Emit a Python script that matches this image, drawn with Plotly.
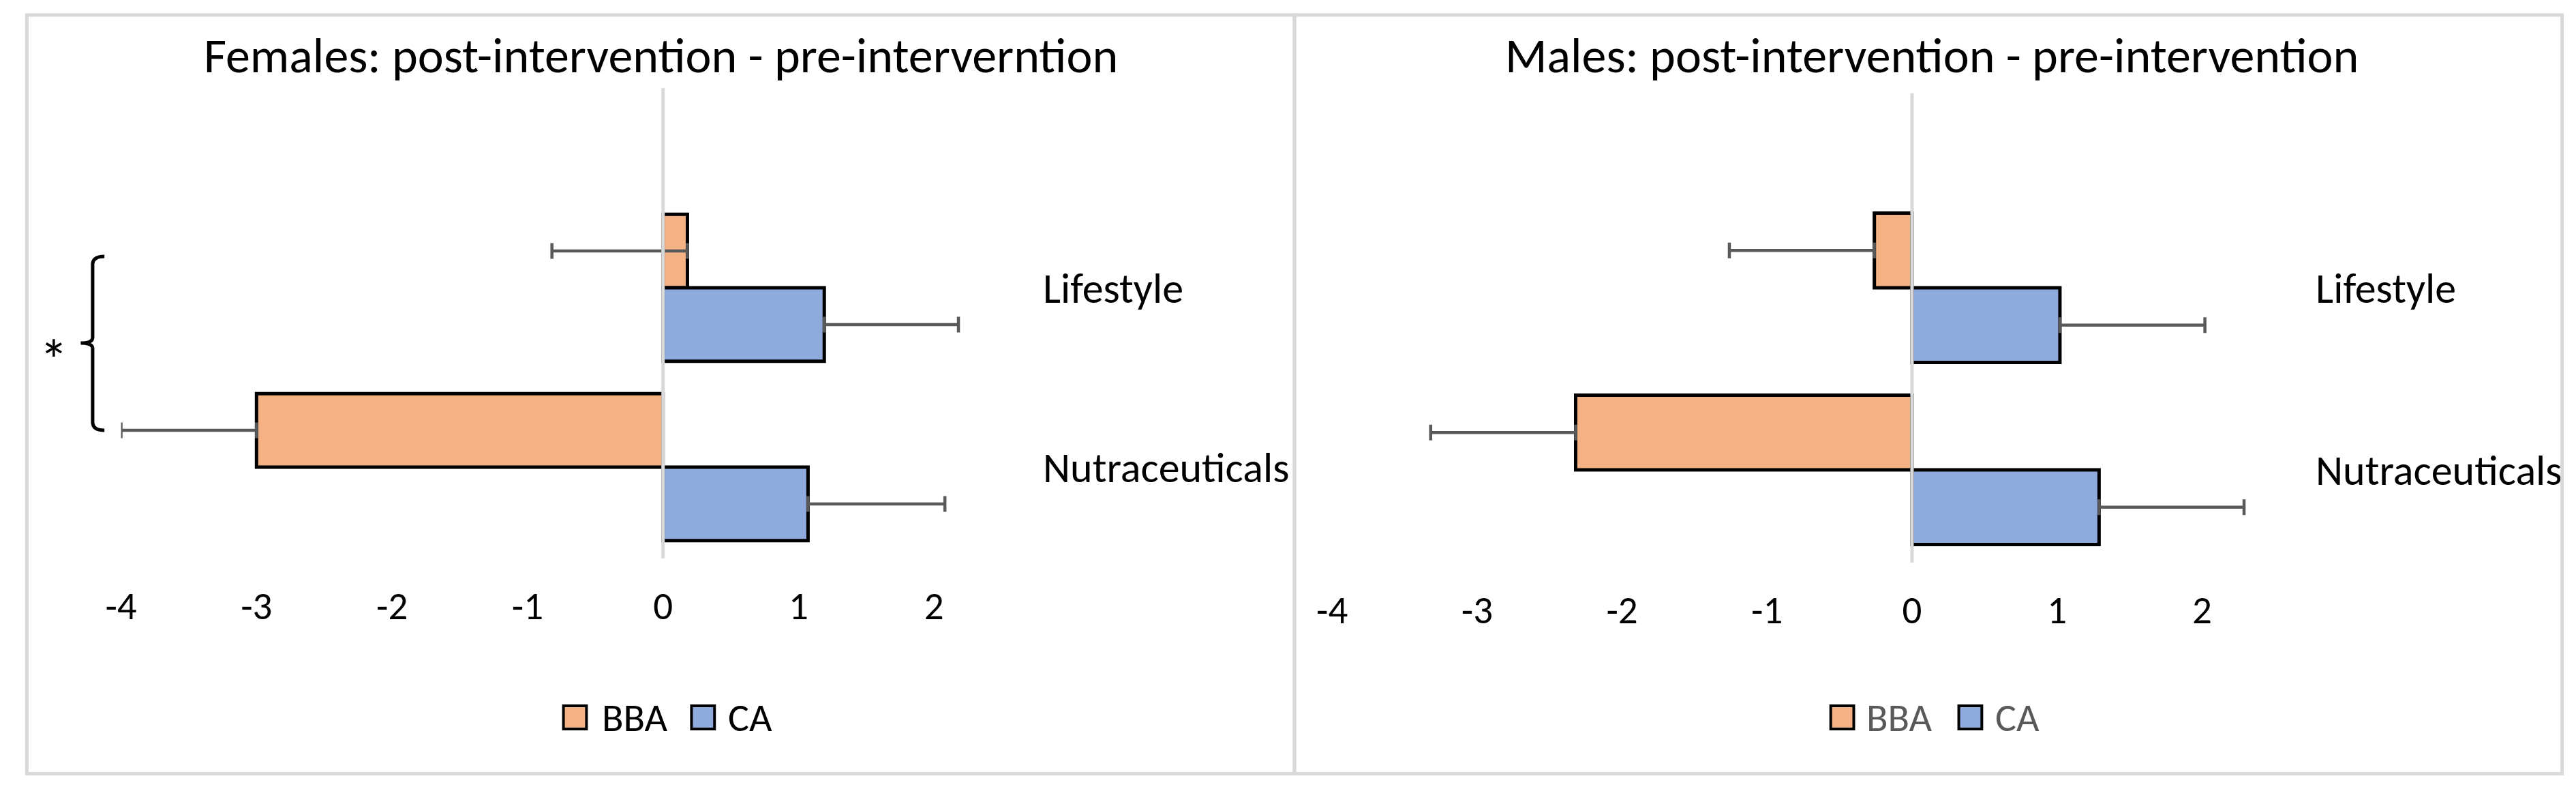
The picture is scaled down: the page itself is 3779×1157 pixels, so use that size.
import plotly.graph_objects as go

# ---------------- data ----------------
categories = ["Lifestyle", "Nutraceuticals"]
series_names = ["BBA", "CA"]
series_colors = ["#F4B183", "#8FAADC"]

female_bba = [0.18, -3.0]
female_ca = [1.19, 1.07]
female_bba_err = [1.0, 1.0]
female_ca_err = [0.99, 1.01]

male_bba = [-0.26, -2.32]
male_ca = [1.02, 1.29]
male_bba_err = [1.0, 1.0]
male_ca_err = [1.0, 1.0]

x_tick_vals = [-4, -3, -2, -1, 0, 1, 2]
x_tick_text = ["-4", "-3", "-2", "-1", "0", "1", "2"]
titles = ["Females: post-intervention - pre-interverntion",
          "Males: post-intervention - pre-intervention"]
significance_mark = "*"

# ---------------- layout helpers ----------------
W, H = 3779, 1157
FONT = "Carlito, Calibri, Lato, sans-serif"
XMIN, XMAX = -4, 2.5


def fx(px):
    return px / W


def fy(py):
    return 1 - py / H


panels = [
    dict(xa="x", ya="y", zero=955.5, unit=200.0, top=129, bottom=819, c0=422, cpx=263,
         bba=female_bba, ca=female_ca, bba_err=female_bba_err, ca_err=female_ca_err,
         title=titles[0], box=(16.5, 1887.5), title_x=952,
         legend=(825.5, 863, 1014.5, 1049), legend_color="black"),
    dict(xa="x2", ya="y2", zero=2799.0, unit=214.0, top=136.5, bottom=825, c0=422, cpx=267,
         bba=male_bba, ca=male_ca, bba_err=male_bba_err, ca_err=male_ca_err,
         title=titles[1], box=(1887.5, 3758.5), title_x=2828,
         legend=(2696, 2730, 2885, 2920), legend_color="#595959"),
]

fig = go.Figure()
shapes = []
annotations = []

for i, p in enumerate(panels):
    suffix = "" if i == 0 else str(i + 1)
    # BBA: minus-direction error bars; CA: plus-direction error bars
    fig.add_trace(go.Bar(
        y=categories, x=p["bba"], orientation="h", name=series_names[0],
        marker=dict(color=series_colors[0], line=dict(color="black", width=5)),
        error_x=dict(type="data", symmetric=False, array=[0] * len(categories),
                     arrayminus=p["bba_err"], color="#595959", thickness=4.5, width=11.5),
        xaxis=p["xa"], yaxis=p["ya"], showlegend=False))
    fig.add_trace(go.Bar(
        y=categories, x=p["ca"], orientation="h", name=series_names[1],
        marker=dict(color=series_colors[1], line=dict(color="black", width=5)),
        error_x=dict(type="data", symmetric=False, array=p["ca_err"],
                     arrayminus=[0] * len(categories), color="#595959", thickness=4.5, width=11.5),
        xaxis=p["xa"], yaxis=p["ya"], showlegend=False))

    x_left = p["zero"] + XMIN * p["unit"]
    x_right = p["zero"] + XMAX * p["unit"]
    fig.update_layout(**{
        "xaxis" + suffix: dict(
            domain=[fx(x_left), fx(x_right)], range=[XMIN, XMAX], anchor=p["ya"],
            tickvals=x_tick_vals, ticktext=x_tick_text, ticks="outside", ticklen=20,
            tickcolor="rgba(0,0,0,0)", showgrid=False, zeroline=False, showline=False,
            tickfont=dict(family=FONT, size=57, color="black")),
        "yaxis" + suffix: dict(
            domain=[fy(p["bottom"]), fy(p["top"])], anchor=p["xa"], type="category",
            categoryorder="array", categoryarray=categories,
            range=[(p["bottom"] - p["c0"]) / p["cpx"], (p["top"] - p["c0"]) / p["cpx"]],
            side="right", ticks="outside", ticklen=47, tickcolor="rgba(0,0,0,0)",
            showgrid=False, zeroline=False, showline=False,
            tickfont=dict(family=FONT, size=62, color="black")),
    })

    # value axis zero line drawn above the bars
    shapes.append(dict(type="line", xref=p["xa"], yref=p["ya"] + " domain",
                       x0=0, x1=0, y0=0, y1=1, layer="above",
                       line=dict(color="#D9D9D9", width=5)))
    # chart border
    shapes.append(dict(type="rect", xref="paper", yref="paper",
                       x0=fx(p["box"][0]), x1=fx(p["box"][1]), y0=fy(1134.5), y1=fy(22),
                       line=dict(color="#D9D9D9", width=5), fillcolor="rgba(0,0,0,0)"))
    # title
    annotations.append(dict(text=p["title"], xref="paper", yref="paper",
                            x=fx(p["title_x"]), y=fy(81), xanchor="center", yanchor="middle",
                            showarrow=False, font=dict(family=FONT, size=72, color="black")))
    # custom legend
    sw_bba, tx_bba, sw_ca, tx_ca = p["legend"]
    ly = 1052
    for sw, tx, name, col in [(sw_bba, tx_bba, series_names[0], series_colors[0]),
                              (sw_ca, tx_ca, series_names[1], series_colors[1])]:
        shapes.append(dict(type="rect", xref="paper", yref="paper",
                           x0=fx(sw - 17), x1=fx(sw + 17), y0=fy(ly + 17), y1=fy(ly - 17),
                           line=dict(color="black", width=4), fillcolor=col))
        annotations.append(dict(text=name, xref="paper", yref="paper", x=fx(tx), y=fy(ly),
                                xanchor="left", yanchor="middle", showarrow=False,
                                font=dict(family=FONT, size=58, color=p["legend_color"])))

# significance bracket (left panel)
bx, bt, bb, bm, tip, hook = 113.6, 376, 631, 503, 96, 131
r = 12
path = (f"M {fx(hook)},{fy(bt)} Q {fx(bx)},{fy(bt)} {fx(bx)},{fy(bt + r)} "
        f"L {fx(bx)},{fy(bm - 8)} Q {fx(bx)},{fy(bm)} {fx(tip)},{fy(bm)} "
        f"Q {fx(bx)},{fy(bm)} {fx(bx)},{fy(bm + 8)} "
        f"L {fx(bx)},{fy(bb - r)} Q {fx(bx)},{fy(bb)} {fx(hook)},{fy(bb)}")
shapes.append(dict(type="path", xref="paper", yref="paper", path=path,
                   line=dict(color="black", width=5)))
annotations.append(dict(text=significance_mark, xref="paper", yref="paper",
                        x=fx(56), y=fy(528), xanchor="center", yanchor="middle",
                        showarrow=False, font=dict(family=FONT, size=84, color="black")))

fig.update_layout(
    width=W, height=H, margin=dict(l=0, r=0, t=0, b=0),
    paper_bgcolor="white", plot_bgcolor="white",
    barmode="group", bargap=0.18, bargroupgap=0,
    shapes=shapes, annotations=annotations, showlegend=False,
)

fig.write_html("out.html", config={"displayModeBar": False},
               post_script="document.body.style.margin='0';document.body.style.overflow='hidden';")
